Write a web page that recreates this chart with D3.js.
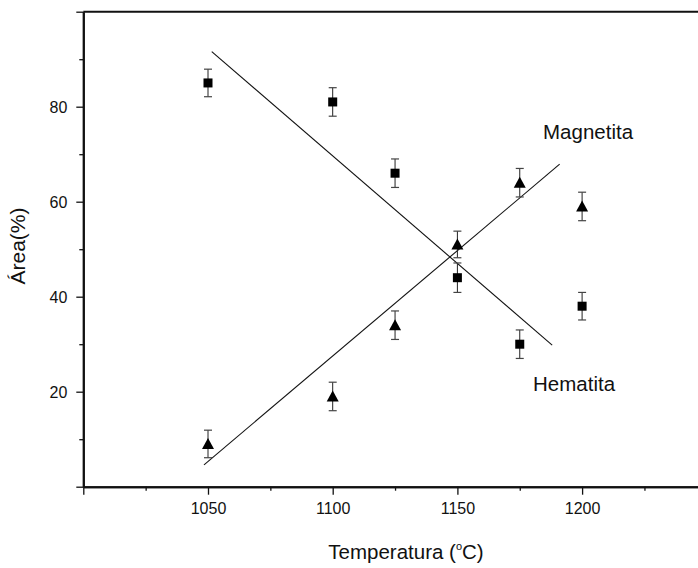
<!DOCTYPE html>
<html>
<head>
<meta charset="utf-8">
<script src="https://cdn.jsdelivr.net/npm/d3@7"></script>
<style>
  html, body { margin: 0; padding: 0; background: #fff; }
  svg { display: block; }
  text { font-family: "Liberation Sans", Arial, sans-serif; fill: #111; }
</style>
</head>
<body>
<svg id="chart" width="698" height="568"></svg>
<script>
// ---- data ----
const temps = [1050, 1100, 1125, 1150, 1175, 1200];
const hematita = [85, 81, 66, 44, 30, 38];
const hematitaErr = [2.9, 3, 3, 3.1, 3, 2.9];
const magnetita = [9, 19, 34, 51, 64, 59];
const magnetitaErr = [2.9, 3, 3, 2.8, 3, 3];
const hematitaFitX = [1051.5, 1188];
const hematitaFitY = [91.6, 29.8];
const magnetitaFitX = [1048.4, 1191];
const magnetitaFitY = [4.6, 67.9];
const xMajorTicks = [1000, 1050, 1100, 1150, 1200, 1250];
const xMinorTicks = [1025, 1075, 1125, 1175, 1225];
const xLabelTicks = [1050, 1100, 1150, 1200];
const yMajorTicks = [0, 20, 40, 60, 80, 100];
const yMinorTicks = [10, 30, 50, 70, 90];
const yLabelTicks = [20, 40, 60, 80];

// ---- layout ----
const svg = d3.select("#chart");
const x = d3.scaleLinear().domain([1000, 1250]).range([83.3, 706.8]);
const y = d3.scaleLinear().domain([0, 100]).range([486.7, 11.7]);

// frame (top & right)
svg.append("line").attr("x1", x(1000)).attr("x2", x(1250))
  .attr("y1", y(100)).attr("y2", y(100)).attr("stroke", "#111").attr("stroke-width", 2);
svg.append("line").attr("x1", x(1250)).attr("x2", x(1250))
  .attr("y1", y(100)).attr("y2", y(0)).attr("stroke", "#111").attr("stroke-width", 2);

// x axis
const xMajor = svg.append("g").attr("transform", `translate(0,${y(0)})`)
  .call(d3.axisBottom(x).tickValues(xMajorTicks).tickSize(8).tickSizeOuter(0)
    .tickFormat(d => xLabelTicks.includes(d) ? d : ""));
const xMinor = svg.append("g").attr("transform", `translate(0,${y(0)})`)
  .call(d3.axisBottom(x).tickValues(xMinorTicks).tickSize(4).tickSizeOuter(0).tickFormat(""));
// y axis
const yMajor = svg.append("g").attr("transform", `translate(${x(1000)},0)`)
  .call(d3.axisLeft(y).tickValues(yMajorTicks).tickSize(7).tickSizeOuter(0)
    .tickFormat(d => yLabelTicks.includes(d) ? d : ""));
const yMinor = svg.append("g").attr("transform", `translate(${x(1000)},0)`)
  .call(d3.axisLeft(y).tickValues(yMinorTicks).tickSize(4).tickSizeOuter(0).tickFormat(""));

[xMajor, xMinor, yMajor, yMinor].forEach(g => {
  g.select(".domain").attr("stroke", "#111").attr("stroke-width", 2);
  g.selectAll(".tick line").attr("stroke", "#111").attr("stroke-width", 1.3);
  g.selectAll(".tick text").attr("font-size", 16)
    .attr("font-family", '"Liberation Sans", Arial, sans-serif').attr("fill", "#111");
});
xMajor.selectAll(".tick text").attr("dy", null).attr("y", 27);
yMajor.selectAll(".tick text").attr("x", -16).attr("dy", "0.36em");

// axis titles
const xt = svg.append("text").attr("x", 406).attr("y", 559).attr("text-anchor", "middle")
  .attr("font-size", 20.5);
xt.append("tspan").text("Temperatura (");
xt.append("tspan").text("o").attr("font-size", 11).attr("dy", -9);
xt.append("tspan").text("C)").attr("dy", 9);

svg.append("text").attr("transform", "translate(25,246) rotate(-90)")
  .attr("text-anchor", "middle").attr("font-size", 21).text("Área(%)");

// fit lines
const lineGen = d3.line().x(d => x(d[0])).y(d => y(d[1]));
svg.append("path").datum(d3.zip(hematitaFitX, hematitaFitY)).attr("d", lineGen)
  .attr("fill", "none").attr("stroke", "#111").attr("stroke-width", 1.1);
svg.append("path").datum(d3.zip(magnetitaFitX, magnetitaFitY)).attr("d", lineGen)
  .attr("fill", "none").attr("stroke", "#111").attr("stroke-width", 1.1);

// error bars
function errorBars(vals, errs) {
  const g = svg.append("g");
  temps.forEach((t, i) => {
    const cx = x(t), y1 = y(vals[i] + errs[i]), y2 = y(vals[i] - errs[i]);
    g.append("line").attr("x1", cx).attr("x2", cx).attr("y1", y1).attr("y2", y2)
      .attr("stroke", "#222").attr("stroke-width", 1);
    [y1, y2].forEach(yy => g.append("line").attr("x1", cx - 4).attr("x2", cx + 4)
      .attr("y1", yy).attr("y2", yy).attr("stroke", "#444").attr("stroke-width", 1.2));
  });
}
errorBars(hematita, hematitaErr);
errorBars(magnetita, magnetitaErr);

// markers
svg.append("g").selectAll("rect").data(d3.zip(temps, hematita)).join("rect")
  .attr("x", d => x(d[0]) - 4.5).attr("y", d => y(d[1]) - 4.5)
  .attr("width", 9).attr("height", 9).attr("fill", "#000");
svg.append("g").selectAll("path").data(d3.zip(temps, magnetita)).join("path")
  .attr("transform", d => `translate(${x(d[0])},${y(d[1])})`)
  .attr("d", "M0,-6 L6,5 L-6,5 Z").attr("fill", "#000");

// labels
svg.append("text").attr("x", 543).attr("y", 139).attr("font-size", 20.5).text("Magnetita");
svg.append("text").attr("x", 533).attr("y", 391).attr("font-size", 20.5).text("Hematita");
</script>
</body>
</html>
